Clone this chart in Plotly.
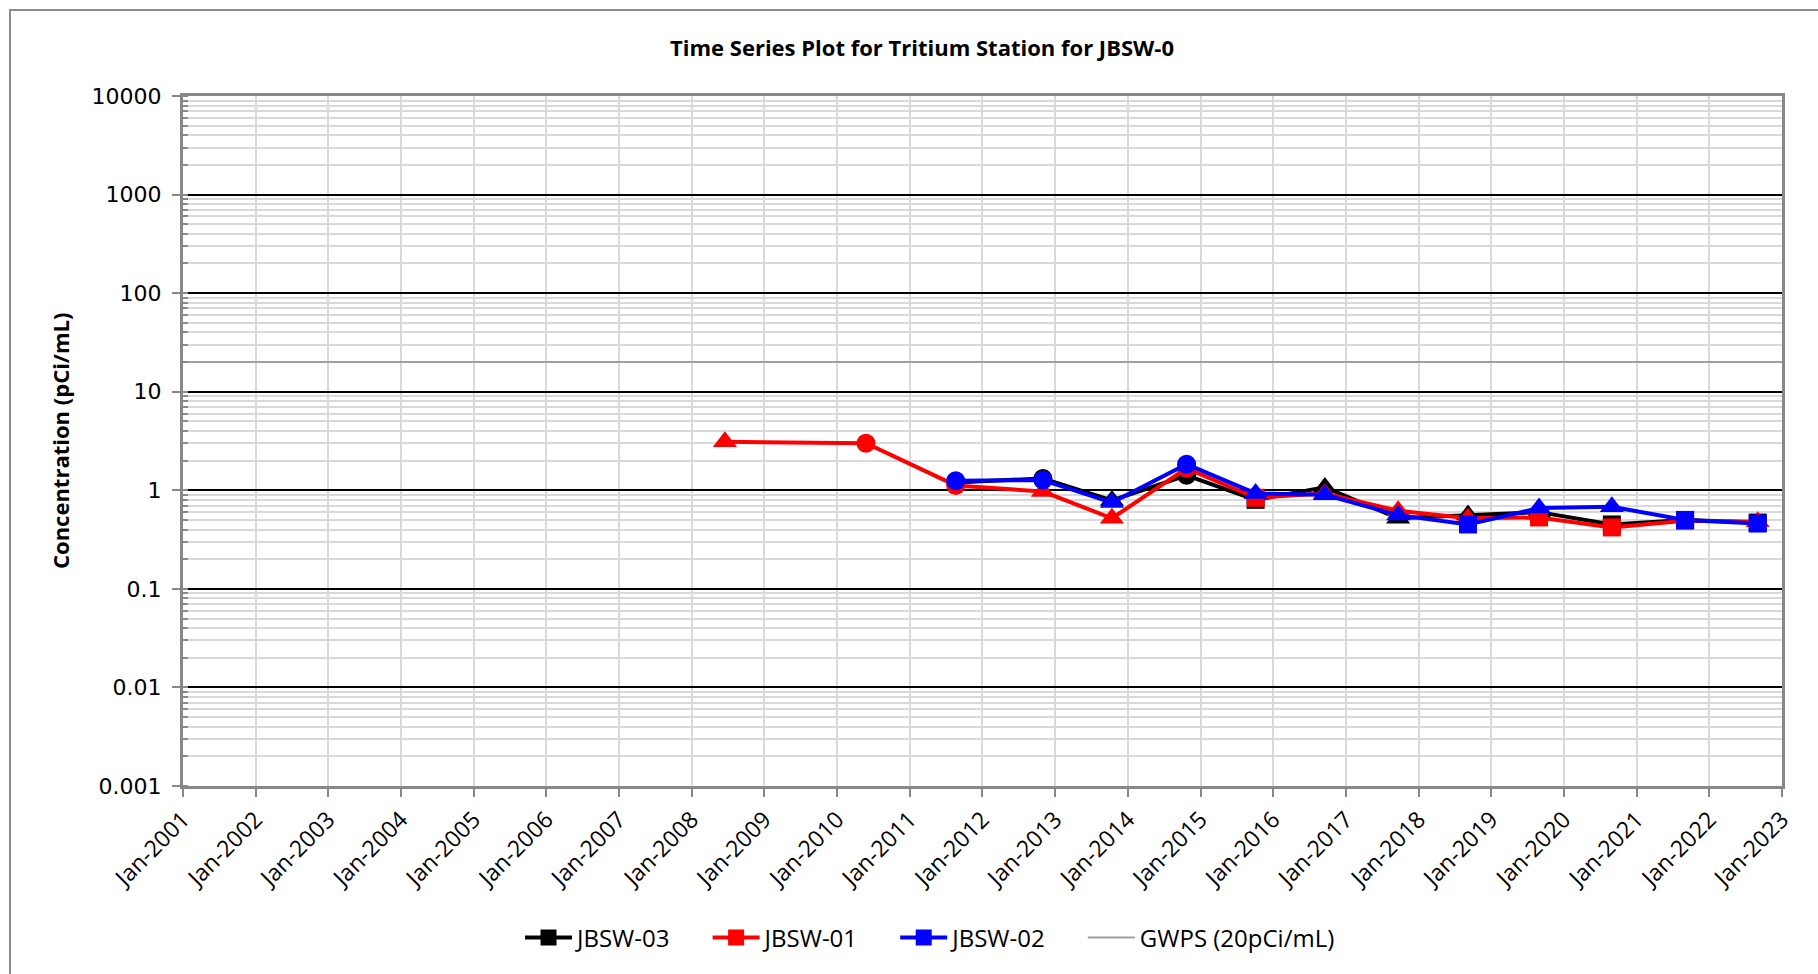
import plotly.graph_objects as go

# ---------------- data ----------------
dates_01 = ["2008-06-16", "2010-05-26", "2011-08-20", "2012-10-31", "2013-10-13",
            "2014-10-23", "2015-10-05", "2016-09-17", "2017-09-20", "2018-09-06",
            "2019-08-29", "2020-08-29", "2021-09-01", "2022-09-01"]
conc_01 = [3.1, 3.0, 1.12, 0.97, 0.52, 1.67, 0.84, 0.93, 0.62, 0.52, 0.53, 0.42, 0.49, 0.48]

dates_03 = ["2011-08-20", "2012-10-31", "2013-10-13", "2014-10-23", "2015-10-05",
            "2016-09-17", "2017-09-20", "2018-09-06", "2019-08-29", "2020-08-29",
            "2021-09-01", "2022-09-01"]
conc_03 = [1.2, 1.32, 0.79, 1.42, 0.8, 1.07, 0.52, 0.56, 0.6, 0.45, 0.5, 0.47]

dates_02 = dates_03
conc_02 = [1.25, 1.27, 0.75, 1.84, 0.93, 0.9, 0.56, 0.45, 0.66, 0.68, 0.5, 0.46]

gwps_value = 20
x_range = ["2001-01-01", "2023-01-01"]
y_tickvals = [0.001, 0.01, 0.1, 1, 10, 100, 1000, 10000]
y_ticktext = ["0.001", "0.01", "0.1", "1", "10", "100", "1000", "10000"]

# per-point marker shapes (style)
sym_01 = ["triangle-up", "circle", "circle", "triangle-up", "triangle-up", "circle", "square",
          "triangle-up", "triangle-up", "triangle-up", "square", "square", "square", "triangle-up"]
sym_03 = ["circle", "circle", "triangle-up", "circle", "square", "triangle-up", "triangle-up",
          "triangle-up", "triangle-up", "square", "square", "square"]
sym_02 = ["circle", "circle", "triangle-up", "circle", "triangle-up", "triangle-up", "triangle-up",
          "square", "triangle-up", "triangle-up", "square", "square"]
SYM_SIZE = {"circle": 19, "triangle-up": 21, "square": 18}

FONT = "Open Sans"
W, H = 1818, 974
L, R, T, B = 183, 1782, 96, 786
NB = "\u00a0"

fig = go.Figure()

series = [
    ("JBSW-03", dates_03, conc_03, sym_03, "#000000"),
    ("JBSW-01", dates_01, conc_01, sym_01, "#ff0000"),
    ("JBSW-02", dates_02, conc_02, sym_02, "#0000ff"),
]

for name, xs, ys, syms, col in series:
    fig.add_trace(go.Scatter(
        x=xs, y=ys, mode="lines+markers", name=name, showlegend=False,
        line=dict(color=col, width=4),
        marker=dict(symbol=syms, size=[SYM_SIZE[s] for s in syms], color=col,
                    opacity=1, line=dict(width=0)),
    ))

fig.add_trace(go.Scatter(
    x=x_range, y=[gwps_value, gwps_value], mode="lines", name="GWPS (20pCi/mL)",
    line=dict(color="#a0a0a0", width=2), showlegend=False, hoverinfo="skip",
))

# legend-only entries
for name, _, _, _, col in series:
    fig.add_trace(go.Scatter(
        x=[None], y=[None], mode="lines+markers", name=name + NB * 5,
        line=dict(color=col, width=4),
        marker=dict(symbol="square", size=16, color=col, opacity=1),
    ))
fig.add_trace(go.Scatter(
    x=[None], y=[None], mode="lines", name="GWPS (20pCi/mL)",
    line=dict(color="#a0a0a0", width=2),
))

fig.update_layout(
    width=W, height=H,
    margin=dict(l=L, r=W - R, t=T, b=H - B, pad=0),
    paper_bgcolor="white", plot_bgcolor="white",
    font=dict(family=FONT, color="black"),
    title=dict(text="<b>Time Series Plot for Tritium Station for JBSW-0</b>",
               x=922 / W, xref="container", xanchor="center",
               y=1 - 48 / H, yref="container", yanchor="middle",
               font=dict(size=22, family=FONT, color="black")),
    legend=dict(orientation="h", x=(520 - L) / (R - L), xanchor="left",
                y=-(938 - B) / (B - T), yanchor="middle",
                font=dict(size=24, family=FONT),
                itemwidth=47, tracegroupgap=0,
                bgcolor="rgba(0,0,0,0)"),
    showlegend=True,
)

fig.update_xaxes(
    type="date", range=x_range, tick0="2001-01-01", dtick="M12",
    tickformat="%b-%Y", tickangle=-45,
    tickfont=dict(size=23, family=FONT),
    ticks="outside", ticklen=8, tickwidth=2, tickcolor="#888888",
    showgrid=True, gridcolor="#d9d9d9", gridwidth=2,
    showline=True, linecolor="#888888", linewidth=3, mirror=True,
    zeroline=False,
)

fig.update_yaxes(
    type="log", range=[-3, 4],
    tickvals=y_tickvals, ticktext=y_ticktext,
    tickfont=dict(size=22, family="DejaVu Sans"),
    ticklabelstandoff=6,
    ticks="outside", ticklen=8, tickwidth=2, tickcolor="#888888",
    showgrid=True, gridcolor="#000000", gridwidth=2,
    minor=dict(dtick="D1", showgrid=True, gridcolor="#d9d9d9", gridwidth=2,
               ticks="inside", ticklen=5, tickwidth=2, tickcolor="#888888"),
    showline=True, linecolor="#888888", linewidth=3, mirror=True,
    zeroline=False,
)

fig.add_annotation(
    text="<b>Concentration (pCi/mL)</b>", textangle=-90,
    xref="paper", yref="paper", x=(60 - L) / (R - L), y=0.5,
    xanchor="center", yanchor="middle", showarrow=False,
    font=dict(size=22, family=FONT, color="black"),
)

# outer chart-area border
fig.add_shape(type="rect", xref="paper", yref="paper",
              x0=(10 - L) / (R - L), x1=(W + 20 - L) / (R - L),
              y0=-(H + 20 - B) / (B - T), y1=(B - 10) / (B - T),
              line=dict(color="#8c8c8c", width=2), layer="below")

fig.write_html("out.html", config={"displayModeBar": False},
               post_script="document.body.style.margin='0';document.body.style.overflow='hidden';")
